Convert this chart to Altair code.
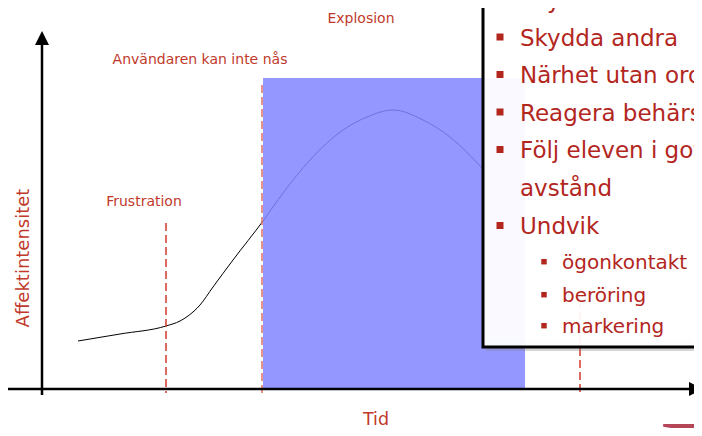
import altair as alt
import pandas as pd

# ---- data (pixel-like coordinates: x right, y down) ----
curve_x = [78, 120, 166, 180, 188, 200, 213, 233, 263, 283, 310, 343, 367, 393, 423, 450, 482, 500]
curve_y = [341, 334, 326, 321, 316, 305, 287, 260, 221, 193, 160, 130, 117, 110, 120, 137, 168, 188]

phase_x = [166, 262, 580]
phase_top = [223, 85, 300]
phase_bottom = [393, 393, 392]
phase_color = ["#d23a2a", "#e0705f", "#d23a2a"]

explosion_band = {"x": [263], "x2": [525], "y": [78], "y2": [389]}

label_text = ["Explosion", "Användaren kan inte nås", "Frustration"]
label_x = [361, 200, 144]
label_y = [23, 64, 206]

bullet_text = ["Skydda eleven", "Skydda andra", "Närhet utan ord", "Reagera behärskat",
               "Följ eleven i gott", "avstånd", "Undvik"]
bullet_y = [8, 45.5, 83, 120.5, 158, 196, 234]
bullet_mark = [True, True, True, True, True, False, True]

sub_text = ["ögonkontakt", "beröring", "markering"]
sub_y = [268.5, 301.5, 332.5]

FONT = "DejaVu Sans"
RED = "#c0392b"
DARKRED = "#b3261e"

XS = alt.Scale(domain=[8, 694], nice=False, zero=False)
YS = alt.Scale(domain=[8, 428], reverse=True, nice=False, zero=False)
X = lambda f: alt.X(f, type="quantitative", scale=XS, axis=None)
Y = lambda f: alt.Y(f, type="quantitative", scale=YS, axis=None)

curve = alt.Chart(pd.DataFrame({"x": curve_x, "y": curve_y})).mark_line(
    color="black", strokeWidth=1, interpolate="monotone"
).encode(x=X("x"), y=Y("y"))

band = alt.Chart(pd.DataFrame(explosion_band)).mark_rect(color="#8085ff", opacity=0.85).encode(
    x=X("x"), x2="x2", y=Y("y"), y2="y2")

phases = alt.Chart(pd.DataFrame({"x": phase_x, "y": phase_top, "y2": phase_bottom, "c": phase_color})).mark_rule(
    strokeDash=[8, 4], strokeWidth=1.5
).encode(x=X("x"), y=Y("y"), y2="y2", color=alt.Color("c:N", scale=None))

axes = alt.Chart(pd.DataFrame({"x": [42, 8], "x2": [42, 692], "y": [395, 389], "y2": [42, 389]})).mark_rule(
    color="black", strokeWidth=2.5
).encode(x=X("x"), x2="x2", y=Y("y"), y2="y2")

arrow_up = alt.Chart(pd.DataFrame({"x": [42], "y": [38]})).mark_point(
    shape="M0,-1L-1,1L1,1Z", size=196, filled=True, color="black", opacity=1
).encode(x=X("x"), y=Y("y"))
arrow_right = alt.Chart(pd.DataFrame({"x": [696], "y": [389]})).mark_point(
    shape="M1,0L-1,-1L-1,1Z", size=196, filled=True, color="black", opacity=1
).encode(x=X("x"), y=Y("y"))

shadow = alt.Chart(pd.DataFrame({"x": [486], "x2": [720], "y": [340], "y2": [351]})).mark_rect(
    color="#888888", opacity=0.35).encode(x=X("x"), x2="x2", y=Y("y"), y2="y2")
box = alt.Chart(pd.DataFrame({"x": [483], "x2": [720], "y": [-10], "y2": [347]})).mark_rect(
    fill="white", fillOpacity=0.94, stroke="black", strokeWidth=3).encode(
    x=X("x"), x2="x2", y=Y("y"), y2="y2")

labels = alt.Chart(pd.DataFrame({"t": label_text, "x": label_x, "y": label_y})).mark_text(
    font=FONT, fontSize=14, color=RED, align="center", baseline="alphabetic"
).encode(x=X("x"), y=Y("y"), text="t:N")

ytitle = alt.Chart(pd.DataFrame({"t": ["Affektintensitet"], "x": [28.5], "y": [258]})).mark_text(
    font=FONT, fontSize=18, color=RED, align="center", baseline="alphabetic", angle=270
).encode(x=X("x"), y=Y("y"), text="t:N")

xtitle = alt.Chart(pd.DataFrame({"t": ["Tid"], "x": [376], "y": [425]})).mark_text(
    font=FONT, fontSize=17.5, color=RED, align="center", baseline="alphabetic"
).encode(x=X("x"), y=Y("y"), text="t:N")

bdf = pd.DataFrame({"t": bullet_text, "y": bullet_y, "m": bullet_mark})
btext = alt.Chart(bdf).transform_calculate(x="520").mark_text(
    font=FONT, fontSize=23, color=DARKRED, align="left", baseline="alphabetic"
).encode(x=X("x"), y=Y("y"), text="t:N")
bsq = alt.Chart(bdf).transform_filter("datum.m").transform_calculate(
    x="500", yc="datum.y - 8.5").mark_square(
    size=49, color=DARKRED, opacity=1, filled=True
).encode(x=X("x"), y=Y("yc"))

sdf = pd.DataFrame({"t": sub_text, "y": sub_y})
stext = alt.Chart(sdf).transform_calculate(x="562").mark_text(
    font=FONT, fontSize=20, color=DARKRED, align="left", baseline="alphabetic"
).encode(x=X("x"), y=Y("y"), text="t:N")
ssq = alt.Chart(sdf).transform_calculate(x="544", yc="datum.y - 6.8").mark_square(
    size=30, color=DARKRED, opacity=1, filled=True
).encode(x=X("x"), y=Y("yc"))

logo = alt.Chart(pd.DataFrame({"t": ["E"], "x": [660], "y": [496]})).mark_text(
    font="Liberation Serif", fontSize=110, color="#b44658", align="left", baseline="alphabetic"
).encode(x=X("x"), y=Y("y"), text="t:N")

chart = alt.layer(
    curve, band, phases, axes, arrow_up, arrow_right, labels, ytitle, xtitle, logo,
    shadow, box, bsq, btext, ssq, stext
).properties(
    width=686, height=420, padding=0, autosize=alt.AutoSizeParams(type="none"),
    background="white"
).configure_view(stroke=None)

chart.save("out.html", embed_options={"renderer": "svg", "actions": False})
